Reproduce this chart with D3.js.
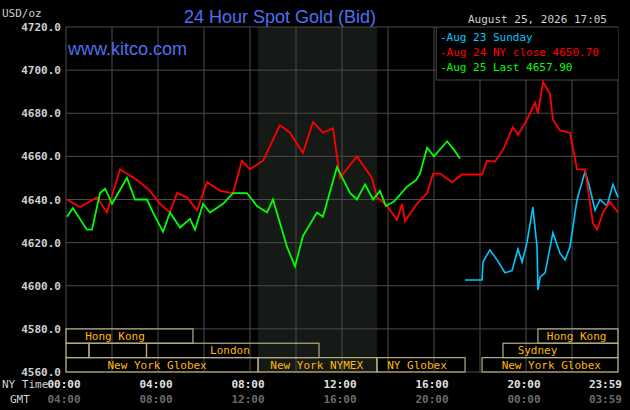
<!DOCTYPE html>
<html>
<head>
<meta charset="utf-8">
<script src="https://cdn.jsdelivr.net/npm/d3@7"></script>
<style>
  body { margin: 0; background: #000; }
  svg { display: block; }
</style>
</head>
<body>
<div id="chart"></div>
<script>
// hours since 00:00 NY time, price in USD/oz
const aug24Hours = [0.04, 0.61, 1.35, 1.78, 2.35, 3.09, 3.65, 4.09, 4.52, 4.83, 5.26, 5.70, 6.13, 6.70, 7.26, 7.65, 8.0, 8.57, 9.30, 9.74, 10.3, 10.74, 11.17, 11.61, 11.91, 12.35, 12.65, 12.91, 13.30, 13.52, 13.96, 14.39, 14.61, 14.74, 15.26, 15.70, 15.96, 16.26, 16.78, 17.22, 18.09, 18.30, 18.65, 19.0, 19.43, 19.65, 20.04, 20.39, 20.52, 20.74, 21.04, 21.17, 21.48, 21.91, 22.22, 22.57, 22.91, 23.09, 23.35, 23.65, 24];
const aug24Values = [4640, 4636.5, 4641, 4634, 4654, 4649, 4644, 4638, 4634, 4643, 4641, 4635, 4648, 4644, 4643, 4658, 4654, 4658, 4674.5, 4671, 4661.6, 4676, 4671, 4673, 4650, 4656, 4660, 4656, 4650, 4641, 4637, 4630.5, 4638, 4630, 4638, 4643, 4652, 4652, 4648, 4651.6, 4651.6, 4658, 4657.6, 4663, 4673.6, 4670, 4677, 4685, 4680, 4694.5, 4689, 4677, 4672, 4671, 4654, 4654, 4629, 4626, 4634, 4639, 4634];

const aug25Hours = [0.04, 0.30, 0.91, 1.13, 1.48, 1.70, 2.0, 2.65, 3.0, 3.52, 3.78, 4.22, 4.52, 4.96, 5.39, 5.61, 5.96, 6.26, 6.83, 7.26, 7.87, 8.30, 8.74, 9.0, 9.61, 9.96, 10.30, 10.91, 11.17, 11.78, 12.35, 12.65, 13.0, 13.35, 13.65, 13.91, 14.26, 14.83, 15.22, 15.39, 15.70, 16.0, 16.57, 16.87, 17.13];
const aug25Values = [4632, 4636, 4626, 4626, 4643, 4645, 4638, 4650, 4640, 4640, 4634, 4625, 4634, 4627, 4631, 4626, 4638, 4634, 4638, 4643, 4643, 4637, 4634, 4640, 4618, 4609, 4623, 4634, 4632, 4655, 4643, 4640, 4647, 4640, 4644, 4637, 4639, 4646, 4649, 4652, 4664, 4660, 4667, 4663, 4659];

const aug23Hours = [17.35, 18.09, 18.13, 18.43, 18.74, 19.09, 19.39, 19.65, 19.83, 20.04, 20.30, 20.48, 20.52, 20.61, 20.83, 21.17, 21.48, 21.70, 21.91, 22.22, 22.57, 22.78, 23.0, 23.22, 23.52, 23.78, 24];
const aug23Values = [4602.7, 4602.7, 4611, 4616.6, 4612, 4606, 4607, 4617, 4611, 4620, 4636.5, 4618, 4598, 4604, 4606, 4624.5, 4615, 4612, 4618, 4640, 4653, 4645, 4635, 4640, 4637, 4647, 4641];

const yTicks = [4560, 4580, 4600, 4620, 4640, 4660, 4680, 4700, 4720];
const timeTicks = [0, 4, 8, 12, 16, 20, 23.9833];
const nyLabels = ["00:00", "04:00", "08:00", "12:00", "16:00", "20:00", "23:59"];
const gmtLabels = ["04:00", "08:00", "12:00", "16:00", "20:00", "00:00", "03:59"];

const legendLabels = ["Aug 23 Sunday", "Aug 24 NY close 4650.70", "Aug 25 Last 4657.90"];
const legendColors = ["#00c8ff", "#ff0000", "#00ff00"];

// sessions: row 0 top .. row 2 bottom
const sessions = [
  { row: 0, start: 0, end: 5.52, label: "Hong Kong", at: 2.13 },
  { row: 0, start: 20.52, end: 24, label: "Hong Kong", at: 22.2 },
  { row: 1, start: 0, end: 1, label: "", at: 0 },
  { row: 1, start: 1, end: 3.5, label: "", at: 0 },
  { row: 1, start: 3.5, end: 11, label: "London", at: 7.13 },
  { row: 1, start: 19, end: 24, label: "Sydney", at: 20.5 },
  { row: 2, start: 0, end: 8.35, label: "New York Globex", at: 3.96 },
  { row: 2, start: 8.35, end: 13.52, label: "New York NYMEX", at: 10.9 },
  { row: 2, start: 13.52, end: 17.35, label: "NY Globex", at: 15.26 },
  { row: 2, start: 18.09, end: 24, label: "New York Globex", at: 21.1 }
];
const nymexShade = [8.35, 13.52];

const width = 630, height = 410;
const pLeft = 66, pRight = 618, pTop = 27, pBottom = 372;
const mono = "'DejaVu Sans Mono', monospace";

const svg = d3.select("#chart").append("svg")
  .attr("width", width).attr("height", height)
  .style("background", "#000");

const x = d3.scaleLinear().domain([0, 24]).range([pLeft, pRight]);
const y = d3.scaleLinear().domain([4560, 4720]).range([pBottom, pTop]);

svg.append("rect")
  .attr("x", x(nymexShade[0])).attr("y", pTop)
  .attr("width", x(nymexShade[1]) - x(nymexShade[0])).attr("height", pBottom - pTop)
  .attr("fill", "#161a16");

// grid
svg.append("g").selectAll("line")
  .data(d3.range(0, 25, 2))
  .enter().append("line")
  .attr("x1", d => x(d)).attr("x2", d => x(d))
  .attr("y1", pTop).attr("y2", pBottom)
  .attr("stroke", "#4a4a4a");

svg.append("g").selectAll("line")
  .data(yTicks)
  .enter().append("line")
  .attr("x1", pLeft).attr("x2", pRight)
  .attr("y1", d => y(d)).attr("y2", d => y(d))
  .attr("stroke", "#4a4a4a");

svg.append("g").selectAll("text")
  .data(yTicks)
  .enter().append("text")
  .attr("x", 61).attr("y", d => y(d) + 4)
  .attr("text-anchor", "end")
  .attr("fill", "#d0d0d0").attr("font-family", mono).attr("font-size", "11px").attr("font-weight", "bold")
  .text(d => d.toFixed(1));

svg.append("text").attr("x", 2).attr("y", 17)
  .attr("fill", "#d0d0d0").attr("font-family", mono).attr("font-size", "11px")
  .text("USD/oz");

svg.append("text").attr("x", 280).attr("y", 23)
  .attr("text-anchor", "middle")
  .attr("fill", "#4f6ff0").attr("font-family", "'Liberation Sans', Arial, sans-serif").attr("font-size", "18px")
  .text("24 Hour Spot Gold (Bid)");

svg.append("text").attr("x", 607).attr("y", 23)
  .attr("text-anchor", "end")
  .attr("fill", "#d0d0d0").attr("font-family", mono).attr("font-size", "11px")
  .text("August 25, 2026 17:05");

svg.append("text").attr("x", 68).attr("y", 55)
  .attr("fill", "#4f6ff0").attr("font-family", "'Liberation Sans', Arial, sans-serif").attr("font-size", "18px")
  .text("www.kitco.com");

// legend box
svg.append("rect").attr("x", x(16.1)).attr("y", pTop + 1)
  .attr("width", pRight - x(16.1)).attr("height", 80 - pTop - 1).attr("fill", "#000");
svg.append("path")
  .attr("d", `M${x(16.1)},${pTop} V80 H${pRight}`)
  .attr("fill", "none").attr("stroke", "#4a4a4a");

svg.append("g").selectAll("text")
  .data(legendLabels)
  .enter().append("text")
  .attr("x", 440).attr("y", (d, i) => 41 + i * 15)
  .attr("fill", (d, i) => legendColors[i])
  .attr("font-family", mono).attr("font-size", "11px")
  .text(d => "-" + d);

// sessions
const rowH = (y(4560) - y(4580)) / 3;
const sess = svg.append("g");
sess.selectAll("rect")
  .data(sessions)
  .enter().append("rect")
  .attr("x", d => x(d.start)).attr("y", d => y(4580) + d.row * rowH)
  .attr("width", d => x(d.end) - x(d.start)).attr("height", rowH)
  .attr("fill", "none").attr("stroke", "#b4ae80").attr("stroke-width", 1.2);
sess.selectAll("text")
  .data(sessions)
  .enter().append("text")
  .attr("x", d => x(d.at)).attr("y", d => y(4580) + d.row * rowH + 11)
  .attr("text-anchor", "middle")
  .attr("fill", "#ffb800").attr("font-family", mono).attr("font-size", "11px")
  .text(d => d.label);

// lines
const line = (hours, values) => d3.line()
  .x((d, i) => x(hours[i]))
  .y(d => y(d))(values);

svg.append("path").attr("d", line(aug23Hours, aug23Values))
  .attr("fill", "none").attr("stroke", "#00c8ff").attr("stroke-width", 1.6);
svg.append("path").attr("d", line(aug24Hours, aug24Values))
  .attr("fill", "none").attr("stroke", "#ff0000").attr("stroke-width", 1.8);
svg.append("path").attr("d", line(aug25Hours, aug25Values))
  .attr("fill", "none").attr("stroke", "#00ff00").attr("stroke-width", 1.8);

// time axis
svg.append("text").attr("x", 2).attr("y", 388)
  .attr("fill", "#d0d0d0").attr("font-family", mono).attr("font-size", "11px").text("NY Time");
svg.append("text").attr("x", 10).attr("y", 403)
  .attr("fill", "#d0d0d0").attr("font-family", mono).attr("font-size", "11px").text("GMT");

svg.append("g").selectAll("text")
  .data(timeTicks)
  .enter().append("text")
  .attr("x", (d, i) => i === timeTicks.length - 1 ? 622 : x(d) - 2)
  .attr("y", 388)
  .attr("text-anchor", (d, i) => i === timeTicks.length - 1 ? "end" : "middle")
  .attr("fill", "#e0e0e0").attr("font-family", mono).attr("font-size", "11px").attr("font-weight", "bold")
  .text((d, i) => nyLabels[i]);

svg.append("g").selectAll("text")
  .data(timeTicks)
  .enter().append("text")
  .attr("x", (d, i) => i === timeTicks.length - 1 ? 622 : x(d) - 2)
  .attr("y", 403)
  .attr("text-anchor", (d, i) => i === timeTicks.length - 1 ? "end" : "middle")
  .attr("fill", "#6a6a6a").attr("font-family", mono).attr("font-size", "11px").attr("font-weight", "bold")
  .text((d, i) => gmtLabels[i]);
</script>
</body>
</html>
